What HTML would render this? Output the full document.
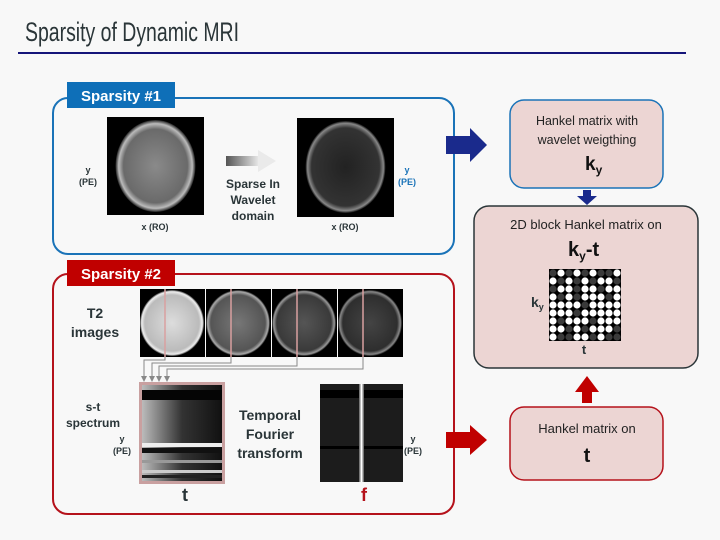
<!DOCTYPE html>
<html><head><meta charset="utf-8"><style>
html,body{margin:0;padding:0;background:#f8f8f8;}
svg{display:block;font-family:"Liberation Sans",Arial,sans-serif;}
</style></head><body>
<svg width="720" height="540" viewBox="0 0 720 540" xmlns="http://www.w3.org/2000/svg">
<defs>
<radialGradient id="b1" cx="50%" cy="50%" r="50%"><stop offset="0" stop-color="#8a8a8a"/><stop offset="0.8" stop-color="#6a6a6a"/><stop offset="0.92" stop-color="#bbb"/><stop offset="1" stop-color="#222"/></radialGradient>
<radialGradient id="b2" cx="50%" cy="50%" r="50%"><stop offset="0" stop-color="#222"/><stop offset="0.85" stop-color="#333"/><stop offset="0.95" stop-color="#888"/><stop offset="1" stop-color="#111"/></radialGradient>
<radialGradient id="t1" cx="50%" cy="50%" r="50%"><stop offset="0" stop-color="#ddd"/><stop offset="0.85" stop-color="#bbb"/><stop offset="0.95" stop-color="#eee"/><stop offset="1" stop-color="#333"/></radialGradient>
<radialGradient id="t2" cx="50%" cy="50%" r="50%"><stop offset="0" stop-color="#777"/><stop offset="0.85" stop-color="#555"/><stop offset="0.95" stop-color="#aaa"/><stop offset="1" stop-color="#111"/></radialGradient>
<radialGradient id="t3" cx="50%" cy="50%" r="50%"><stop offset="0" stop-color="#555"/><stop offset="0.85" stop-color="#3a3a3a"/><stop offset="0.95" stop-color="#999"/><stop offset="1" stop-color="#111"/></radialGradient>
<radialGradient id="t4" cx="50%" cy="50%" r="50%"><stop offset="0" stop-color="#444"/><stop offset="0.85" stop-color="#2e2e2e"/><stop offset="0.95" stop-color="#888"/><stop offset="1" stop-color="#111"/></radialGradient>
<linearGradient id="ga" x1="0" x2="1"><stop offset="0" stop-color="#555"/><stop offset="1" stop-color="#eee"/></linearGradient>
<linearGradient id="st" x1="0" x2="1"><stop offset="0" stop-color="#bbb"/><stop offset="0.5" stop-color="#333"/><stop offset="1" stop-color="#111"/></linearGradient>
</defs>
<text x="25" y="41" font-size="27" fill="#2a3538" textLength="214" lengthAdjust="spacingAndGlyphs">Sparsity of Dynamic MRI</text>
<rect x="18" y="52" width="668" height="2" fill="#15157a"/>

<rect x="53" y="98" width="401" height="156" rx="15" fill="#f8f8f8" stroke="#1a73b8" stroke-width="2"/>
<rect x="67" y="82" width="108" height="26" fill="#0e6fb8"/>
<text x="121" y="101" font-size="15" font-weight="bold" fill="#fff" text-anchor="middle">Sparsity #1</text>
<rect x="107" y="117" width="97" height="98" fill="#000"/>
<ellipse cx="155.5" cy="166" rx="40" ry="46" fill="url(#b1)"/>
<rect x="297" y="118" width="97" height="99" fill="#000"/>
<ellipse cx="345.5" cy="167" rx="40" ry="46" fill="url(#b2)"/>
<rect x="226" y="156" width="34" height="10" fill="url(#ga)"/>
<polygon points="258,150 276,161 258,172" fill="#eaeaea"/>
<g font-size="12" font-weight="bold" fill="#2a3538" text-anchor="middle">
<text x="253" y="188">Sparse In</text><text x="253" y="204">Wavelet</text><text x="253" y="220">domain</text>
</g>
<g font-size="9" font-weight="bold" text-anchor="middle">
<text x="88" y="173" fill="#2a3538">y</text><text x="88" y="185" fill="#2a3538">(PE)</text>
<text x="407" y="173" fill="#1a73b8">y</text><text x="407" y="185" fill="#1a73b8">(PE)</text>
<text x="155" y="230" fill="#2a3538">x (RO)</text><text x="345" y="230" fill="#2a3538">x (RO)</text>
</g>
<polygon points="446,136 470,136 470,128 487,145 470,162 470,154 446,154" fill="#1a2a8c"/>

<rect x="53" y="274" width="401" height="240" rx="15" fill="#f8f8f8" stroke="#b5121b" stroke-width="2"/>
<rect x="67" y="260" width="108" height="26" fill="#c00000"/>
<text x="121" y="279" font-size="15" font-weight="bold" fill="#fff" text-anchor="middle">Sparsity #2</text>
<g font-size="14" font-weight="bold" fill="#2a3538" text-anchor="middle">
<text x="95" y="318">T2</text><text x="95" y="337">images</text>
</g>
<rect x="140" y="289" width="65" height="68" fill="#000"/><ellipse cx="172" cy="323" rx="32" ry="33" fill="url(#t1)"/>
<rect x="206" y="289" width="65" height="68" fill="#000"/><ellipse cx="238" cy="323" rx="32" ry="33" fill="url(#t2)"/>
<rect x="272" y="289" width="65" height="68" fill="#000"/><ellipse cx="304" cy="323" rx="32" ry="33" fill="url(#t3)"/>
<rect x="338" y="289" width="65" height="68" fill="#000"/><ellipse cx="370" cy="323" rx="32" ry="33" fill="url(#t4)"/>
<g stroke="#d9a0a0" stroke-width="1.5"><line x1="165" y1="289" x2="165" y2="357"/><line x1="231" y1="289" x2="231" y2="357"/><line x1="297" y1="289" x2="297" y2="357"/><line x1="363" y1="289" x2="363" y2="357"/></g>
<g stroke="#888" stroke-width="1" fill="none">
<polyline points="165,357 165,360 144,360 144,377"/>
<polyline points="231,357 231,363 152,363 152,377"/>
<polyline points="297,357 297,366 159,366 159,377"/>
<polyline points="363,357 363,369 167,369 167,377"/>
</g>
<g fill="#888"><polygon points="141,376 147,376 144,382"/><polygon points="149,376 155,376 152,382"/><polygon points="156,376 162,376 159,382"/><polygon points="164,376 170,376 167,382"/></g>
<rect x="139" y="382" width="86" height="102" fill="#c9a0a0"/>
<rect x="142" y="385" width="80" height="96" fill="url(#st)"/>
<rect x="142" y="390" width="80" height="10" fill="#050505"/>
<rect x="142" y="443" width="80" height="4" fill="#eee"/>
<rect x="142" y="448" width="80" height="5" fill="#111"/>
<rect x="142" y="460" width="80" height="3" fill="#999"/>
<rect x="142" y="470" width="80" height="3" fill="#ccc"/>
<rect x="142" y="475" width="80" height="3" fill="#222"/>
<g font-size="12" font-weight="bold" fill="#2a3538" text-anchor="middle">
<text x="93" y="411">s-t</text><text x="93" y="427">spectrum</text>
</g>
<g font-size="9" font-weight="bold" fill="#2a3538" text-anchor="middle">
<text x="122" y="442">y</text><text x="122" y="454">(PE)</text>
<text x="413" y="442">y</text><text x="413" y="454">(PE)</text>
</g>
<g font-size="14" font-weight="bold" fill="#2a3538" text-anchor="middle">
<text x="270" y="420">Temporal</text><text x="270" y="439">Fourier</text><text x="270" y="458">transform</text>
</g>
<rect x="320" y="384" width="83" height="98" fill="#1c1c1c"/>
<rect x="320" y="390" width="83" height="8" fill="#000"/>
<rect x="320" y="446" width="83" height="3" fill="#000"/>
<rect x="359" y="384" width="5" height="98" fill="#777"/>
<rect x="360.5" y="384" width="2" height="98" fill="#fff"/>
<text x="185" y="501" font-size="18" font-weight="bold" fill="#2a3538" text-anchor="middle">t</text>
<text x="364" y="501" font-size="18" font-weight="bold" fill="#b5121b" text-anchor="middle">f</text>
<polygon points="446,432 470,432 470,425 487,440 470,455 470,448 446,448" fill="#c00000"/>

<rect x="510" y="100" width="153" height="88" rx="14" fill="#ecd5d3" stroke="#1a73b8" stroke-width="1.5"/>
<g font-size="12.5" fill="#222" text-anchor="middle"><text x="587" y="125">Hankel matrix with</text><text x="587" y="144">wavelet weigthing</text></g>
<text x="585" y="170" font-size="19" font-weight="bold" fill="#111">k<tspan font-size="12" dy="4">y</tspan></text>
<polygon points="583,190 591,190 591,196 597,196 587,205 577,196 583,196" fill="#1a2a8c"/>
<rect x="474" y="206" width="224" height="162" rx="15" fill="#ecd5d3" stroke="#2a3538" stroke-width="1.5"/>
<text x="586" y="229" font-size="13" fill="#222" text-anchor="middle">2D block Hankel matrix on</text>
<text x="568" y="256" font-size="20" font-weight="bold" fill="#111">k<tspan font-size="12" dy="4">y</tspan><tspan dy="-4">-t</tspan></text>
<rect x="549" y="269" width="72" height="72" fill="#000"/>
<g id="grid"></g>
<text x="531" y="307" font-size="14" font-weight="bold" fill="#2a3538">k<tspan font-size="9" dy="3">y</tspan></text>
<text x="584" y="354" font-size="13" font-weight="bold" fill="#2a3538" text-anchor="middle">t</text>
<polygon points="582,403 592,403 592,392 599,392 587,376 575,392 582,392" fill="#c00000"/>
<rect x="510" y="407" width="153" height="73" rx="14" fill="#ecd5d3" stroke="#b5121b" stroke-width="1.5"/>
<text x="587" y="433" font-size="13" fill="#222" text-anchor="middle">Hankel matrix on</text>
<text x="587" y="462" font-size="20" font-weight="bold" fill="#111" text-anchor="middle">t</text>
</svg>
<script>
var rows=["010101001","101010110","011011011","101011101","111101111","111011111","101110111","110101110","100110100"];
var g=document.getElementById("grid"),ns="http://www.w3.org/2000/svg";
for(var r=0;r<9;r++)for(var c=0;c<9;c++){var e=document.createElementNS(ns,"circle");e.setAttribute("cx",553+c*8);e.setAttribute("cy",273+r*8);e.setAttribute("r",3.6);e.setAttribute("fill",rows[r][c]=="1"?"#fff":"#3a3a3a");g.appendChild(e);}
</script>
</body></html>
